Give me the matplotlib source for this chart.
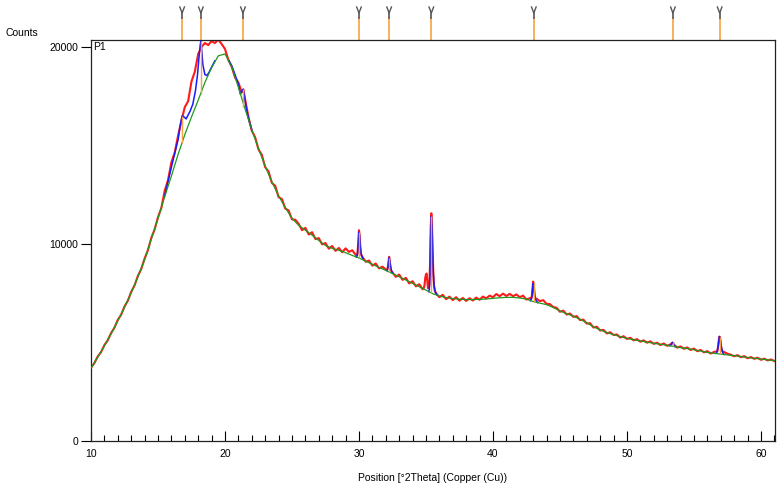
import numpy as np
import matplotlib
matplotlib.use("Agg")
import matplotlib.pyplot as plt
from matplotlib.ticker import MultipleLocator
import matplotlib.transforms as mtransforms

plt.rcParams['font.family'] = ['Liberation Sans', 'DejaVu Sans']

# ---------------- data ----------------
# background (green), every 0.5 deg from 10 to 61
bg_two_theta = np.arange(10.0, 61.01, 0.5)
bg_counts = [3700, 4250, 4830, 5450, 6100, 6780, 7520, 8330, 9200, 10250,
             11300, 12400, 13450, 14550, 15550, 16450, 17300, 18200, 18950, 19550,
             19650, 19000, 17950, 16850, 15800, 14850, 13950, 13150, 12450, 11850,
             11300, 10950, 10700, 10450, 10180, 9920, 9780, 9680, 9560, 9420,
             9290, 9130, 8970, 8810, 8660, 8500, 8340, 8170, 8000, 7830,
             7660, 7480, 7360, 7280, 7230, 7200, 7180, 7180, 7190, 7210,
             7240, 7270, 7290, 7290, 7260, 7200, 7080, 7000, 6920, 6780,
             6600, 6460, 6340, 6180, 6000, 5800, 5640, 5500, 5400, 5300,
             5210, 5140, 5080, 5020, 4960, 4910, 4860, 4800, 4740, 4690,
             4630, 4570, 4500, 4450, 4410, 4370, 4330, 4290, 4240, 4200,
             4160, 4120, 4080]

# observed scan (red), every 0.25 deg from 10 to 61
scan_two_theta = np.arange(10.0, 61.01, 0.25)
scan_counts = [
    3720, 3950, 4290, 4510, 4870, 5110, 5480, 5750, 6150, 6410,
    6830, 7120, 7570, 7900, 8380, 8730, 9260, 9690, 10310, 10740,
    11360, 11830, 12700, 13250, 14150, 14650, 15500, 16250, 16950, 17250,
    18250, 18750, 19650, 20000, 20200, 20100, 20300, 20200, 20380, 20150,
    19900, 19350, 19000, 18450, 18200, 17700, 17350, 16450, 15750, 15420,
    14800, 14520, 13900, 13680, 13100, 12950, 12380, 12280, 11800, 11700,
    11250, 11230, 11020, 10700, 10820, 10480, 10600, 10250, 10300, 9980,
    10050, 9760, 9900, 9650, 9800, 9580, 9780, 9600, 9680, 9450,
    10700, 9350, 9100, 9160, 8900, 9010, 8760, 8850, 8700, 9350,
    8560, 8330, 8450, 8180, 8280, 8000, 8110, 7850, 7960, 7700,
    8450, 7900, 9600, 7500, 7300, 7420, 7200, 7330, 7150, 7300,
    7120, 7260, 7110, 7250, 7130, 7280, 7170, 7330, 7240, 7380,
    7300, 7460, 7350, 7480, 7360, 7470, 7350, 7440, 7300, 7380,
    7180, 7250, 8090, 7220, 7100, 7150, 6960, 6950, 6800, 6760,
    6560, 6620, 6420, 6470, 6300, 6340, 6140, 6160, 5960, 5980,
    5760, 5800, 5610, 5640, 5460, 5520, 5380, 5410, 5250, 5320,
    5180, 5240, 5110, 5170, 5040, 5110, 4990, 5060, 4930, 4990,
    4870, 4950, 4830, 4900, 4900, 4740, 4800, 4680, 4750, 4620,
    4690, 4560, 4620, 4500, 4560, 4440, 4520, 4560, 4950, 4520,
    4430, 4380, 4300, 4360, 4250, 4310, 4200, 4260, 4170, 4230,
    4120, 4180, 4090, 4140, 4060]

# extra observed points across the sharp reflections
peak_two_theta = [21.375,
                  29.85, 29.9, 29.95, 30.05, 30.1, 30.15,
                  32.1, 32.15, 32.2, 32.3, 32.35, 32.4,
                  34.85, 34.9, 34.95, 35.05, 35.1, 35.15,
                  35.3, 35.35, 35.4, 35.45, 35.55, 35.6, 35.65,
                  42.85, 42.9, 42.95, 43.05, 43.1, 43.15,
                  53.3, 53.35, 53.4, 53.45,
                  56.8, 56.85, 56.9, 56.95, 57.05, 57.1]
peak_counts = [17850,
               9400, 9600, 10150, 10450, 9850, 9500,
               8700, 8800, 9100, 9150, 8800, 8650,
               7780, 7950, 8300, 8500, 8150, 7750,
               8900, 10800, 11560, 11000, 8500, 7900, 7650,
               7200, 7350, 7750, 7900, 7450, 7250,
               4920, 4970, 5000, 4970,
               4800, 5100, 5300, 5250, 4700, 4560]

# calculated profile (blue) where it departs from the background
calc_x_a = [15.5, 16.0, 16.25, 16.5, 16.65, 16.8, 16.95, 17.1, 17.25, 17.4, 17.6, 17.8,
            17.95, 18.05, 18.15, 18.2, 18.27, 18.35, 18.5, 18.65, 18.8, 19.0, 19.25]
calc_y_a = [12450, 13900, 14600, 15300, 16000, 16500, 16450, 16350, 16550, 16750, 17100, 17800,
            18600, 19400, 20100, 20300, 19800, 19100, 18600, 18550, 18700, 18980, 19300]
calc_x_b = [20.3, 20.5, 20.8, 21.0, 21.15, 21.25, 21.35, 21.45, 21.6, 21.8, 22.0]
calc_y_b = [19300, 19050, 18500, 18100, 17600, 17750, 17850, 17500, 16850, 16250, 15800]
calc_x_c = [29.8, 29.88, 29.95, 30.0, 30.05, 30.1, 30.17, 30.3]
calc_y_c = [9340, 9450, 10000, 10600, 10400, 9850, 9450, 9250]
calc_x_d = [32.1, 32.18, 32.25, 32.32, 32.4, 32.5]
calc_y_d = [8640, 8850, 9300, 9050, 8700, 8520]
calc_x_e = [35.2, 35.25, 35.3, 35.35, 35.4, 35.45, 35.5, 35.55, 35.6, 35.7, 35.8]
calc_y_e = [7580, 7700, 8300, 10300, 11400, 10900, 9500, 8500, 7900, 7550, 7440]
calc_x_f = [42.8, 42.9, 42.95, 43.0, 43.05, 43.12, 43.2, 43.35]
calc_y_f = [7120, 7300, 7650, 8000, 7850, 7400, 7150, 7020]
calc_x_g = [53.2, 53.3, 53.4, 53.5, 53.6]
calc_y_g = [4830, 4900, 5000, 4900, 4780]
calc_x_h = [56.7, 56.8, 56.9, 56.97, 57.05, 57.15, 57.25]
calc_y_h = [4480, 4750, 5300, 5150, 4750, 4480, 4400]

# reference reflections (orange sticks)
ref_pos = [16.8, 18.2, 21.34, 30.0, 32.25, 35.4, 43.05, 53.43, 56.92]
ref_base = [15150, 17600, 16950, 9290, 8580, 7500, 7080, 4810, 4420]
ref_top = [16500, 20300, 17850, 10600, 9300, 11400, 8000, 5000, 5300]

x_ticks = [10, 20, 30, 40, 50, 60]
y_ticks = [0, 10000, 20000]

# ---------------- figure ----------------
W, H = 783, 495
fig = plt.figure(figsize=(W / 100, H / 100), dpi=100)
ax_l, ax_r, ax_t, ax_b = 91, 775, 40, 441
ax = fig.add_axes([ax_l / W, (H - ax_b) / H, (ax_r - ax_l) / W, (ax_b - ax_t) / H])

obs_x = np.concatenate([scan_two_theta, peak_two_theta])
obs_y = np.concatenate([scan_counts, peak_counts])
order = np.argsort(obs_x)
obs_x, obs_y = obs_x[order], obs_y[order]

red = '#ff1a1a'
blue = '#1a1aff'
green = '#1e9a1e'
orange = '#f7a240'

ax.plot(obs_x, obs_y, color=red, lw=1.5, zorder=2)
for cx, cy in [(calc_x_a, calc_y_a), (calc_x_b, calc_y_b), (calc_x_c, calc_y_c),
               (calc_x_d, calc_y_d), (calc_x_e, calc_y_e), (calc_x_f, calc_y_f),
               (calc_x_g, calc_y_g), (calc_x_h, calc_y_h)]:
    ax.plot(cx, cy, color=blue, lw=1.1, zorder=3)
ax.plot(bg_two_theta, bg_counts, color=green, lw=0.9, zorder=4)
ax.vlines(ref_pos, ref_base, ref_top, color=orange, lw=1.0, zorder=5)

ax.set_xlim(10, 61.05)
ax.set_ylim(0, 20355)

ax.set_xticks(x_ticks)
ax.xaxis.set_minor_locator(MultipleLocator(1))
ax.set_yticks(y_ticks)
ax.set_yticklabels([str(v) for v in y_ticks])
ax.tick_params(axis='x', which='major', direction='in', length=7, width=0.8,
               labelsize=7.5, pad=6, top=False)
ax.tick_params(axis='x', which='minor', direction='in', length=4, width=0.8, top=False)
ax.tick_params(axis='y', which='major', direction='out', length=7, width=0.8,
               labelsize=7.5, pad=2, right=False)
for s in ax.spines.values():
    s.set_linewidth(0.9)
    s.set_color('#222222')

ax.set_xlabel('Position [°2Theta] (Copper (Cu))', fontsize=7.5, labelpad=10)
fig.text(5 / W, 1 - 33 / H, 'Counts', fontsize=7.5, ha='left', va='center')
ax.text(0.003, 20000, 'P1', fontsize=7.5, ha='left', va='center',
        transform=mtransforms.blended_transform_factory(ax.transAxes, ax.transData))

# reflection markers above the frame
trans = mtransforms.blended_transform_factory(ax.transData, ax.transAxes)
h = ax_b - ax_t
y0 = 1.0
y1 = 1.0 + 22 / h
y2 = 1.0 + 27 / h
y3 = 1.0 + 33 / h
dx = 2.3 / 13.4
for p in ref_pos:
    ax.plot([p, p], [y0, y1], color=orange, lw=1.2, transform=trans, clip_on=False)
    ax.plot([p, p], [y1, y2], color='#555555', lw=1.2, transform=trans, clip_on=False)
    ax.plot([p - dx, p, p + dx], [y3, y2, y3], color='#555555', lw=1.0,
            transform=trans, clip_on=False)

fig.savefig('out.png', dpi=100)
